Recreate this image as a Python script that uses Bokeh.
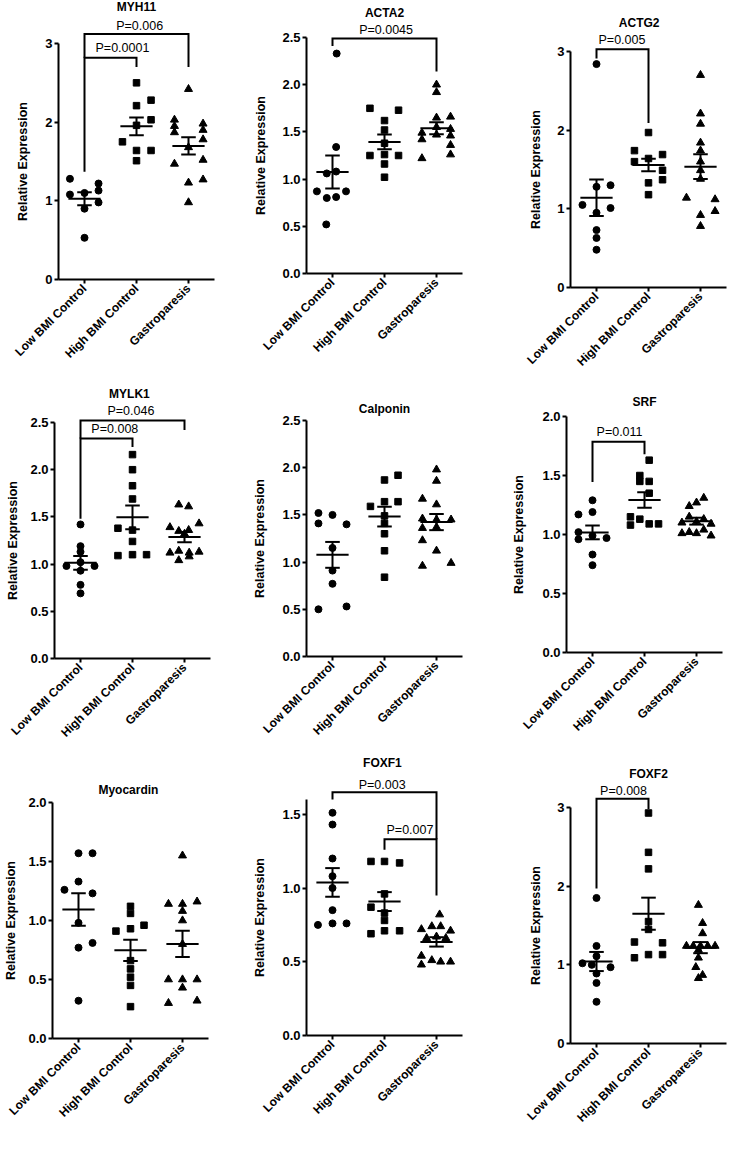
import math
import numpy as np
from bokeh.plotting import figure
from bokeh.layouts import column, row
from bokeh.models import Range1d, FixedTicker, PrintfTickFormatter
from bokeh.core.properties import value
from bokeh.embed import file_html
from bokeh.resources import INLINE

# ---------------- data ----------------
groups = ["Low BMI Control", "High BMI Control", "Gastroparesis"]
genes = ["MYH11", "ACTA2", "ACTG2", "MYLK1", "Calponin", "SRF",
         "Myocardin", "FOXF1", "FOXF2"]

myh11_values = [[1.28, 1.08, 1.10, 1.22, 1.13, 0.98, 0.90, 0.53],
                [2.50, 2.28, 2.21, 2.03, 1.96, 1.75, 1.64, 1.64, 1.51],
                [2.42, 2.03, 1.95, 1.87, 1.98, 1.90, 1.78, 1.68, 1.47, 1.52, 1.27, 1.23, 0.98]]
myh11_spread = [[-0.28, -0.28, 0, 0.27, 0.27, 0.27, 0, 0],
                [0, 0.28, 0, 0.28, 0, -0.27, 0, 0.28, 0],
                [0, -0.27, -0.27, -0.27, 0.28, 0.28, 0.28, 0, -0.27, 0.28, 0.28, 0, 0]]

acta2_values = [[2.33, 1.34, 1.08, 1.06, 0.87, 0.80, 0.81, 0.87, 0.52],
                [1.75, 1.73, 1.62, 1.52, 1.38, 1.25, 1.25, 1.26, 1.16, 1.02],
                [2.00, 1.92, 1.65, 1.66, 1.49, 1.53, 1.47, 1.42, 1.46, 1.36, 1.22, 1.26, 1.55]]
acta2_spread = [[0.08, 0.07, 0.07, -0.11, -0.30, -0.11, 0.07, 0.26, -0.12],
                [-0.28, 0.27, 0, 0, 0, -0.28, 0.27, 0, 0, 0],
                [0, 0, 0, 0.27, -0.28, 0.27, 0, -0.28, 0.27, 0.27, -0.28, 0.27, 0]]

actg2_values = [[2.84, 1.28, 1.30, 1.05, 1.01, 0.95, 0.73, 0.63, 0.48],
                [1.97, 1.74, 1.69, 1.60, 1.64, 1.49, 1.33, 1.37, 1.18],
                [2.70, 2.21, 2.08, 1.84, 1.74, 1.60, 1.49, 1.38, 1.14, 1.12, 0.97, 0.92, 0.78]]
actg2_spread = [[0, 0, 0.27, -0.27, 0.27, 0, 0, 0, 0],
                [0, -0.27, 0.27, -0.27, 0, 0.27, 0, 0.27, 0],
                [0, 0, 0, 0, 0, 0, 0, 0, -0.27, 0.28, 0.28, 0, 0]]

mylk1_values = [[1.42, 1.19, 1.13, 0.98, 0.98, 1.02, 0.93, 0.78, 0.69],
                [2.16, 2.00, 1.83, 1.69, 1.38, 1.36, 1.24, 1.09, 1.10, 1.10],
                [1.63, 1.61, 1.39, 1.43, 1.35, 1.36, 1.32, 1.12, 1.14, 1.12, 1.13, 1.04, 1.08]]
mylk1_spread = [[0, 0, 0, -0.27, 0.27, 0, 0, 0, 0],
                [0, 0, 0, 0, -0.28, 0, 0, -0.28, 0, 0.27],
                [-0.11, 0.08, -0.28, 0.28, -0.11, 0.08, 0, -0.28, -0.11, 0.09, 0.28, -0.11, 0.09]]

calponin_values = [[1.52, 1.41, 1.50, 1.40, 1.15, 0.91, 0.77, 0.50, 0.53],
                   [1.92, 1.87, 1.59, 1.64, 1.64, 1.49, 1.41, 1.30, 1.12, 0.84],
                   [1.98, 1.86, 1.67, 1.61, 1.46, 1.45, 1.45, 1.37, 1.36, 1.23, 1.12, 0.96, 0.99]]
calponin_spread = [[-0.27, -0.27, 0, 0.27, 0, 0, 0, -0.27, 0.27],
                   [0.26, 0, -0.27, 0, 0.26, 0, 0, 0, 0, 0],
                   [0, 0, -0.27, 0, -0.27, 0.28, 0, 0, -0.27, -0.27, 0, -0.27, 0.28]]

srf_values = [[1.29, 1.17, 1.19, 1.02, 0.99, 0.96, 0.97, 0.83, 0.74],
              [1.63, 1.50, 1.45, 1.45, 1.35, 1.15, 1.13, 1.08, 1.09, 1.09],
              [1.31, 1.27, 1.24, 1.15, 1.13, 1.11, 1.10, 1.09, 1.01, 1.02, 1.01, 1.04, 0.99]]
srf_spread = [[0, -0.27, 0, -0.27, 0, -0.27, 0.27, 0, 0],
              [0.09, -0.09, 0.09, -0.09, 0.09, -0.27, -0.09, -0.27, 0.09, 0.27],
              [0.14, 0, -0.14, -0.14, 0.14, 0, -0.28, 0.28, -0.28, -0.14, 0, 0.14, 0.28]]

myocardin_values = [[1.57, 1.57, 1.26, 1.33, 1.23, 0.98, 0.77, 0.81, 0.32],
                    [1.12, 1.06, 0.96, 0.91, 0.93, 0.66, 0.59, 0.52, 0.45, 0.27],
                    [1.55, 1.14, 1.14, 1.16, 1.08, 1.00, 0.80, 0.50, 0.50, 0.50, 0.43, 0.30, 0.32]]
myocardin_spread = [[0, 0.27, -0.27, 0, 0.27, 0, 0, 0.27, 0],
                    [0, 0, 0.26, -0.28, 0, 0, 0, 0, 0, 0],
                    [0, -0.27, 0, 0.28, 0, 0, 0, -0.27, 0, 0.28, 0, -0.27, 0.28]]

foxf1_values = [[1.51, 1.43, 1.20, 1.08, 1.00, 0.85, 0.75, 0.76, 0.76],
                [1.18, 1.18, 1.17, 0.96, 0.87, 0.83, 0.78, 0.69, 0.71, 0.71],
                [0.82, 0.74, 0.74, 0.72, 0.71, 0.66, 0.67, 0.66, 0.54, 0.48, 0.51, 0.50, 0.50]]
foxf1_spread = [[0, 0, 0, 0, 0, 0, -0.28, 0, 0.27],
                [-0.26, 0, 0.29, 0, -0.26, 0, 0, -0.26, 0, 0.29],
                [0.06, -0.09, 0.08, -0.29, 0.27, -0.19, 0, 0.18, -0.29, -0.29, -0.09, 0.08, 0.27]]

foxf2_values = [[1.85, 1.24, 1.11, 1.02, 1.00, 0.97, 0.89, 0.77, 0.53],
                [2.93, 2.43, 2.22, 1.55, 1.45, 1.29, 1.28, 1.13, 1.09, 1.13],
                [1.76, 1.53, 1.40, 1.24, 1.24, 1.24, 1.24, 1.24, 1.19, 1.09, 0.97, 0.83, 0.87]]
foxf2_spread = [[0, 0, 0, -0.27, -0.09, 0.27, 0, 0, 0],
                [0, 0, 0, 0, 0, -0.27, 0.27, 0, -0.27, 0.27],
                [-0.04, 0.04, 0.04, -0.27, -0.14, 0, 0.14, 0.28, -0.04, -0.04, -0.09, -0.04, 0.04]]

values = dict(zip(genes, [myh11_values, acta2_values, actg2_values, mylk1_values,
                          calponin_values, srf_values, myocardin_values,
                          foxf1_values, foxf2_values]))
spreads = dict(zip(genes, [myh11_spread, acta2_spread, actg2_spread, mylk1_spread,
                           calponin_spread, srf_spread, myocardin_spread,
                           foxf1_spread, foxf2_spread]))

axis_top = {"MYH11": 3, "ACTA2": 2.5, "ACTG2": 3, "MYLK1": 2.5, "Calponin": 2.5,
            "SRF": 2.0, "Myocardin": 2.0, "FOXF1": 1.6, "FOXF2": 3}
y_ticks = {"MYH11": [0, 1, 2, 3], "ACTA2": [0, 0.5, 1, 1.5, 2, 2.5],
           "ACTG2": [0, 1, 2, 3], "MYLK1": [0, 0.5, 1, 1.5, 2, 2.5],
           "Calponin": [0, 0.5, 1, 1.5, 2, 2.5], "SRF": [0, 0.5, 1, 1.5, 2],
           "Myocardin": [0, 0.5, 1, 1.5, 2], "FOXF1": [0, 0.5, 1, 1.5],
           "FOXF2": [0, 1, 2, 3]}

# comparisons: (group i, group j, label)
p_values = {"MYH11": [(0, 1, "P=0.0001"), (0, 2, "P=0.006")],
            "ACTA2": [(0, 2, "P=0.0045")],
            "ACTG2": [(0, 1, "P=0.005")],
            "MYLK1": [(0, 1, "P=0.008"), (0, 2, "P=0.046")],
            "Calponin": [],
            "SRF": [(0, 1, "P=0.011")],
            "Myocardin": [],
            "FOXF1": [(0, 2, "P=0.003"), (1, 2, "P=0.007")],
            "FOXF2": [(0, 1, "P=0.008")]}

y_label = "Relative Expression"

# ---------------- layout / style ----------------
FONT = "Liberation Sans"
FRAME_W = 156            # width of the 3-category area, px
CAT_PX = FRAME_W / 3.0
AXIS_PX = 236            # length of the y axis line, px
COL_W = [243, 243, 242]
ROW_H = [375, 377, 385]
MARKERS = ["circle", "square", "triangle"]
MSIZE = [7, 6.5, 8]

# per panel: y-axis x offset in cell, x-axis distance from cell bottom,
# y-label distance, title pos, bracket geometry: (y_top, y_leg_i, y_leg_j, label_x, label_y)
layout = {
    "MYH11": dict(left=58, bottom=96, ylab=36, title=(1.0, 3.46),
                  br=[(2.82, 1.37, 2.70, 0.73, 2.94), (3.12, 2.82, 2.70, 1.06, 3.22)]),
    "ACTA2": dict(left=63, bottom=102, ylab=46, title=(1.0, 2.76),
                  br=[(2.49, 2.41, 2.14, 1.03, 2.58)]),
    "ACTG2": dict(left=84, bottom=88, ylab=35, title=(0.82, 3.36),
                  br=[(3.03, 2.91, 2.09, 0.49, 3.14)]),
    "MYLK1": dict(left=54, bottom=94, ylab=42, title=(0.94, 2.80),
                  br=[(2.33, 1.48, 2.24, 0.66, 2.43), (2.52, 2.33, 2.42, 0.97, 2.62)]),
    "Calponin": dict(left=63, bottom=96, ylab=47, title=(1.0, 2.62), br=[]),
    "SRF": dict(left=80, bottom=100, ylab=48, title=(1.0, 2.12),
                br=[(1.785, 1.445, 1.68, 0.52, 1.87)]),
    "Myocardin": dict(left=52, bottom=99, ylab=42, title=(0.96, 2.11), br=[]),
    "FOXF1": dict(left=63, bottom=102, ylab=47, title=(0.96, 1.85),
                  br=[(1.65, 1.60, 1.33, 0.955, 1.70), (1.33, 1.26, 0.95, 1.49, 1.395)]),
    "FOXF2": dict(left=84, bottom=94, ylab=35, title=(1.0, 3.42),
                  br=[(3.11, 1.97, 2.98, 0.52, 3.21)]),
}


def make_panel(gene, col_w, row_h):
    lay = layout[gene]
    L, B = lay["left"], lay["bottom"]
    R = col_w - L - FRAME_W
    top = axis_top[gene]
    ppu = AXIS_PX / top
    x_start = -0.5 - L / CAT_PX
    x_end = 2.5 + R / CAT_PX
    y_start = -B / ppu
    y_end = (row_h - B) / ppu
    p = figure(width=col_w, height=row_h, x_range=Range1d(x_start, x_end),
               y_range=Range1d(y_start, y_end), output_backend="svg",
               toolbar_location=None, title=None,
               min_border_left=0, min_border_right=0,
               min_border_top=0, min_border_bottom=0)
    p.outline_line_color = None
    p.xgrid.visible = False
    p.ygrid.visible = False

    for gi in range(3):
        vals = np.array(values[gene][gi], dtype=float)
        dx = np.array(spreads[gene][gi], dtype=float)
        p.scatter(gi + dx, vals, marker=MARKERS[gi], size=MSIZE[gi],
                  fill_color="black", line_color="black")
        m = vals.mean()
        s = vals.std(ddof=1) / np.sqrt(len(vals))
        p.segment(x0=[gi - 0.31, gi - 0.14, gi - 0.14, gi],
                  y0=[m, m + s, m - s, m - s],
                  x1=[gi + 0.31, gi + 0.14, gi + 0.14, gi],
                  y1=[m, m + s, m - s, m + s],
                  line_width=2, line_color="black")

    for (i, j, label), (yt, yi, yj, tx, ty) in zip(p_values[gene], lay["br"]):
        p.multi_line([[i, i, j, j]], [[yi, yt, yt, yj]], line_width=2,
                     line_color="black", line_join="miter")
        p.text([tx], [ty], [label], text_font=value(FONT), text_font_size="12.5px",
               text_align="center", text_baseline="middle", text_color="black")

    tx, ty = lay["title"]
    p.text([tx], [ty], [gene], text_font=value(FONT), text_font_size="12px",
           text_font_style="bold", text_align="center", text_baseline="middle",
           text_color="black")

    # y-axis title, centred on the drawn axis line
    p.text([-0.5 - lay["ylab"] / CAT_PX], [top / 2.0], [y_label],
           text_font=value(FONT), text_font_size="12.5px", text_font_style="bold",
           angle=math.pi / 2, text_align="center", text_baseline="middle",
           text_color="black")

    xa = p.xaxis[0]
    xa.fixed_location = 0
    xa.ticker = FixedTicker(ticks=[0, 1, 2])
    xa.bounds = (-0.5, 2.5)
    xa.major_label_overrides = {0: groups[0], 1: groups[1], 2: groups[2]}
    xa.major_label_orientation = math.pi / 4
    xa.major_label_text_font = FONT
    xa.major_label_text_font_style = "bold"
    xa.major_label_text_font_size = "12px"
    xa.major_label_text_color = "black"
    xa.major_label_standoff = 3
    xa.axis_line_width = 2
    xa.axis_line_color = "black"
    xa.major_tick_line_width = 2
    xa.major_tick_line_color = "black"
    xa.major_tick_out = 4
    xa.major_tick_in = 0
    xa.minor_tick_line_color = None

    ya = p.yaxis[0]
    ya.fixed_location = -0.5
    ya.ticker = FixedTicker(ticks=y_ticks[gene])
    ya.bounds = (0, top)
    ya.formatter = PrintfTickFormatter(format="%d" if top == 3 else "%.1f")
    ya.major_label_text_font = FONT
    ya.major_label_text_font_style = "bold"
    ya.major_label_text_font_size = "13px"
    ya.major_label_text_color = "black"
    ya.major_label_standoff = 2
    ya.axis_line_width = 2
    ya.axis_line_color = "black"
    ya.major_tick_line_width = 2
    ya.major_tick_line_color = "black"
    ya.major_tick_out = 4
    ya.major_tick_in = 0
    ya.minor_tick_line_color = None
    return p


rows = []
for r in range(3):
    figs = [make_panel(genes[3 * r + c], COL_W[c], ROW_H[r]) for c in range(3)]
    rows.append(row(*figs))
layout_root = column(*rows)

open("out.html", "w").write(file_html(layout_root, INLINE))
